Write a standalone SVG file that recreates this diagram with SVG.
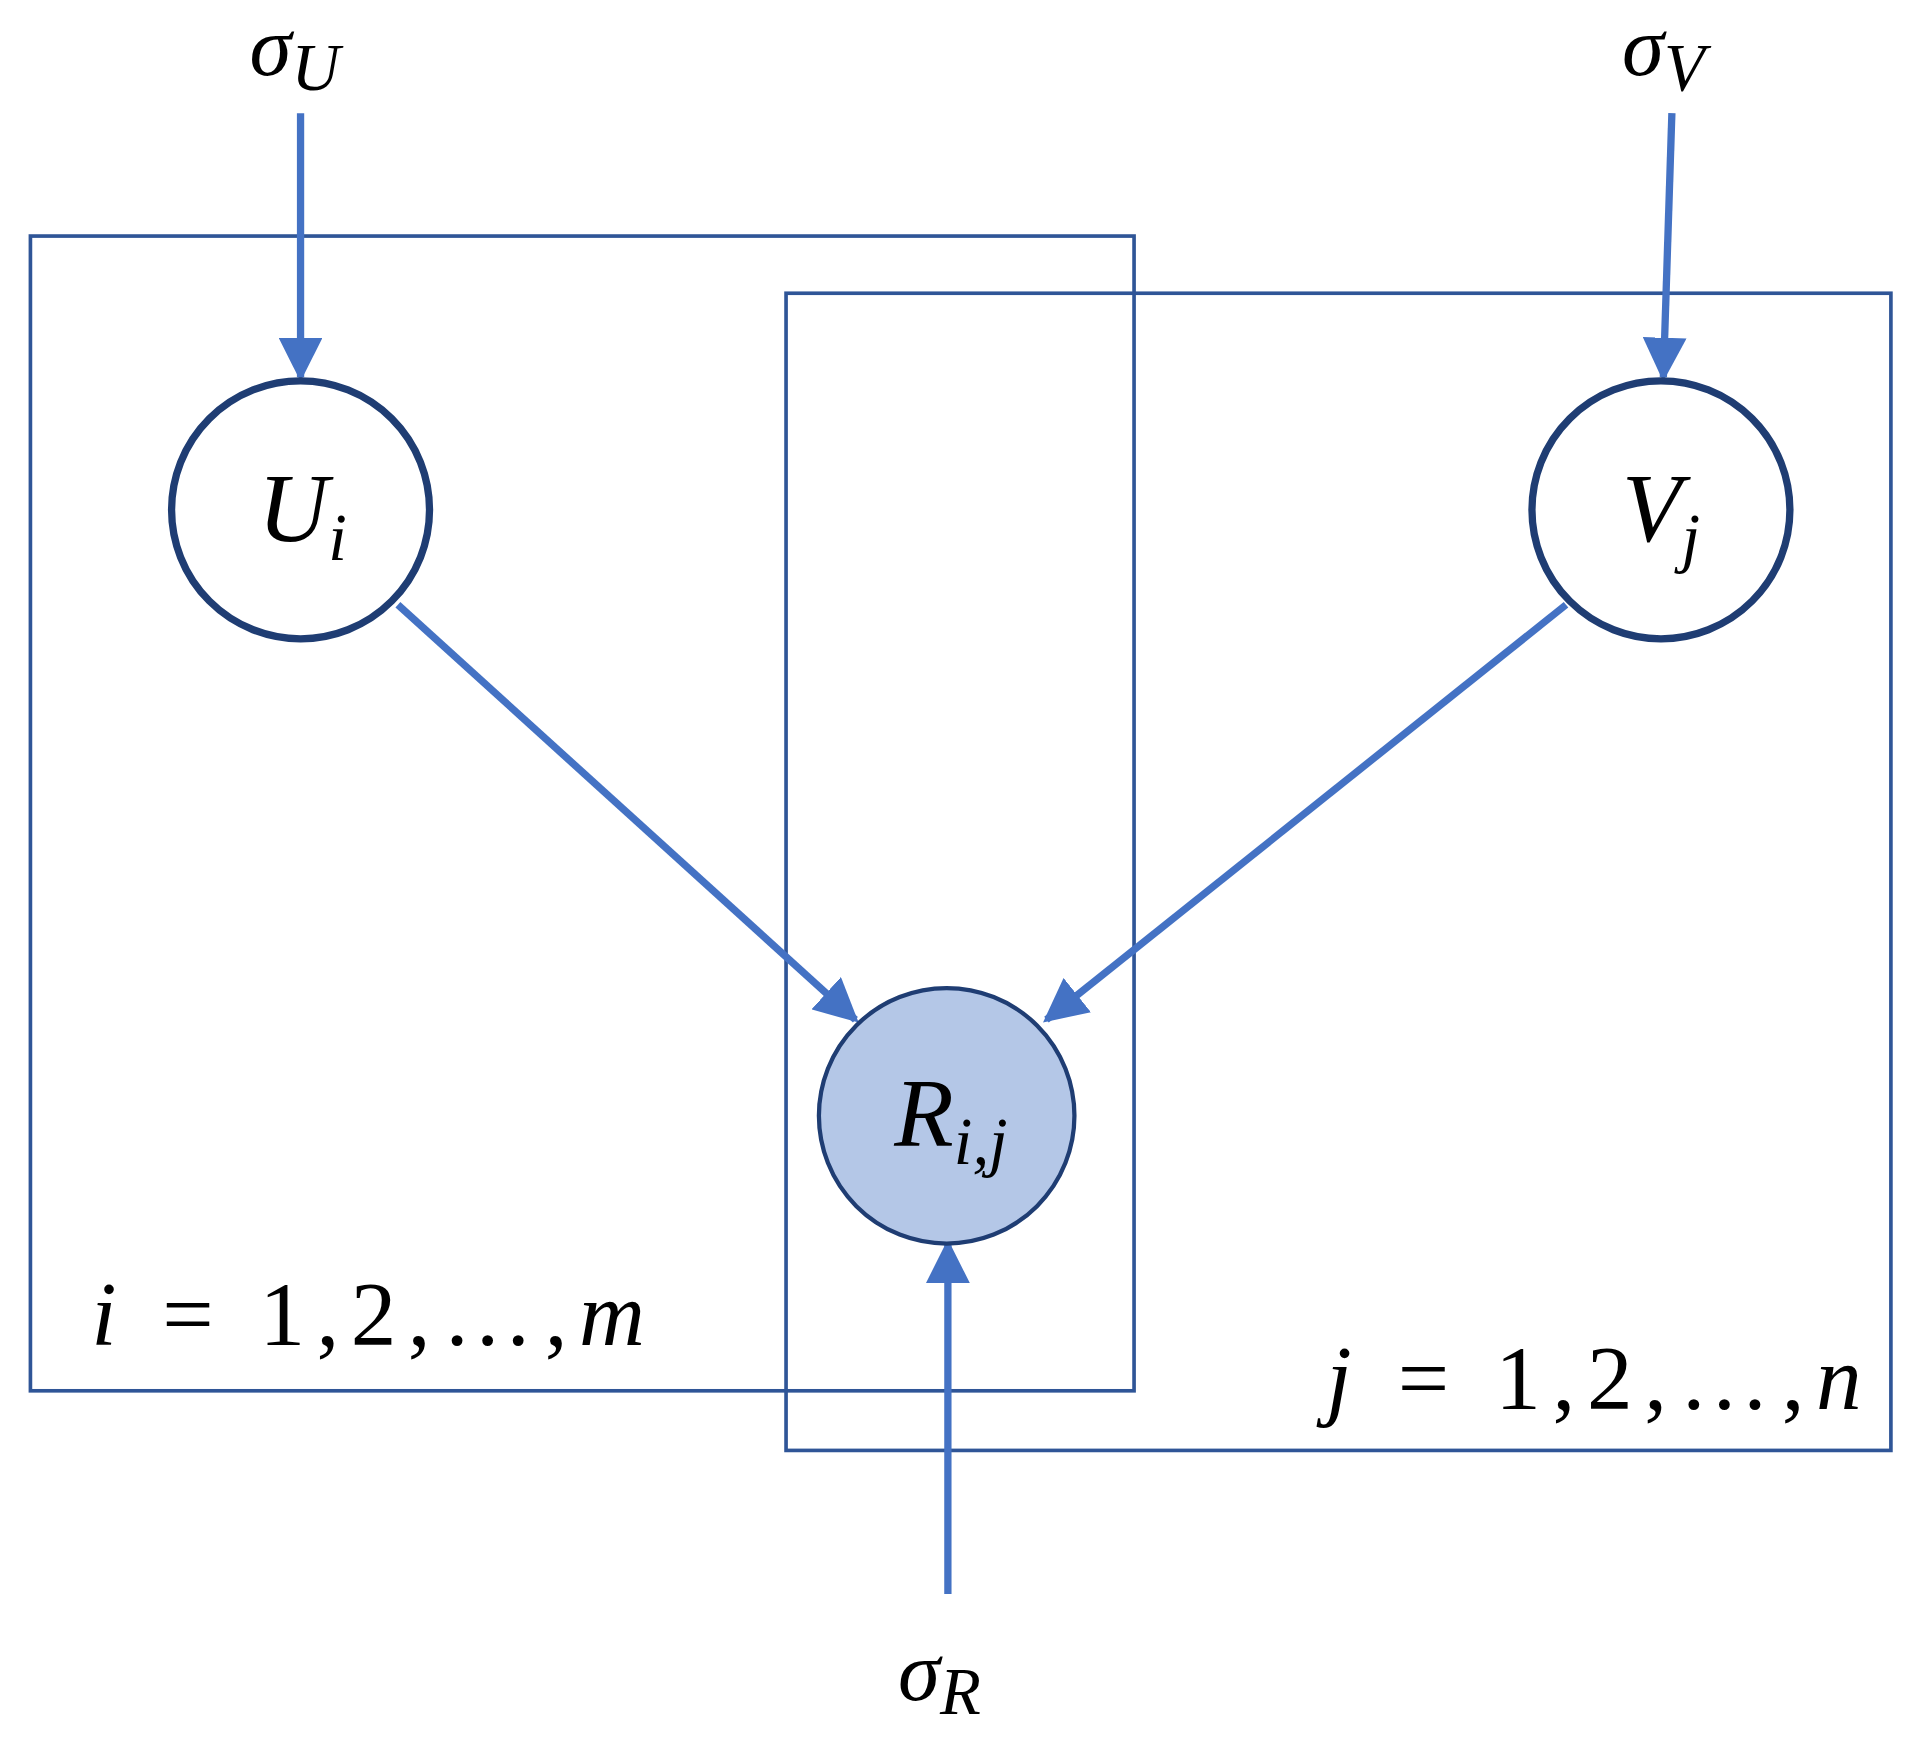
<svg xmlns="http://www.w3.org/2000/svg" width="1908" height="1740" viewBox="0 0 1908 1740">
<style>
.plate{fill:none;stroke:#2f5597;stroke-width:3}
.node{fill:#fff;stroke:#1f3d73;stroke-width:6}
.obs{fill:#b4c7e7;stroke:#1f3d73;stroke-width:3.5}
.e{stroke:#4472c4;stroke-width:6;fill:none;marker-end:url(#ah)}
text{font-family:"Liberation Serif","DejaVu Serif",serif;font-style:italic;fill:#000}
.sub{font-size:55px}
</style>
<defs><marker id="ah" viewBox="0 0 10 10" refX="9" refY="5" markerWidth="6" markerHeight="6" orient="auto" markerUnits="strokeWidth"><path d="M0,0 L10,5 L0,10 z" fill="#4472c4"/></marker></defs>
<rect width="1908" height="1740" fill="#fff"/>
<g transform="scale(1.2168)">
<g id="plates">
<rect class="plate" x="25" y="194" width="907" height="949"/>
<rect class="plate" x="646" y="241" width="908" height="951"/>
</g>
<g id="connectors">
<line class="e" x1="247" y1="93" x2="247" y2="310"/>
<line class="e" x1="1374" y1="93" x2="1367" y2="310"/>
<line class="e" x1="779" y1="1310" x2="779" y2="1022"/>
<line class="e" x1="327" y1="497" x2="703" y2="838"/>
<line class="e" x1="1287" y1="497" x2="860" y2="838"/>
</g>
<g id="sigmaU"><text x="205" y="62" font-size="70">σ<tspan class="sub" dy="12">U</tspan></text></g>
<g id="sigmaV"><text x="1333" y="62" font-size="70">σ<tspan class="sub" dy="12">V</tspan></text></g>
<g id="sigmaR"><text x="738" y="1397" font-size="70">σ<tspan class="sub" dy="12">R</tspan></text></g>
<g id="U"><circle class="node" cx="247" cy="419" r="106"/><text x="212" y="445" font-size="80">U<tspan class="sub" dy="15">i</tspan></text></g>
<g id="V"><circle class="node" cx="1365" cy="419" r="106"/><text x="1333" y="445" font-size="80">V<tspan class="sub" dy="15">j</tspan></text></g>
<g id="R"><circle class="obs" cx="778" cy="917" r="105"/><text x="735" y="942" font-size="80">R<tspan class="sub" dy="15">i,j</tspan></text></g>
<g id="labels">
<text x="75" y="1105" font-size="75" textLength="455" lengthAdjust="spacing">i <tspan font-style="normal">= 1,2,…,</tspan>m</text>
<text x="1090" y="1158" font-size="75" textLength="440" lengthAdjust="spacing">j <tspan font-style="normal">= 1,2,…,</tspan>n</text>
</g>
</g>
</svg>
